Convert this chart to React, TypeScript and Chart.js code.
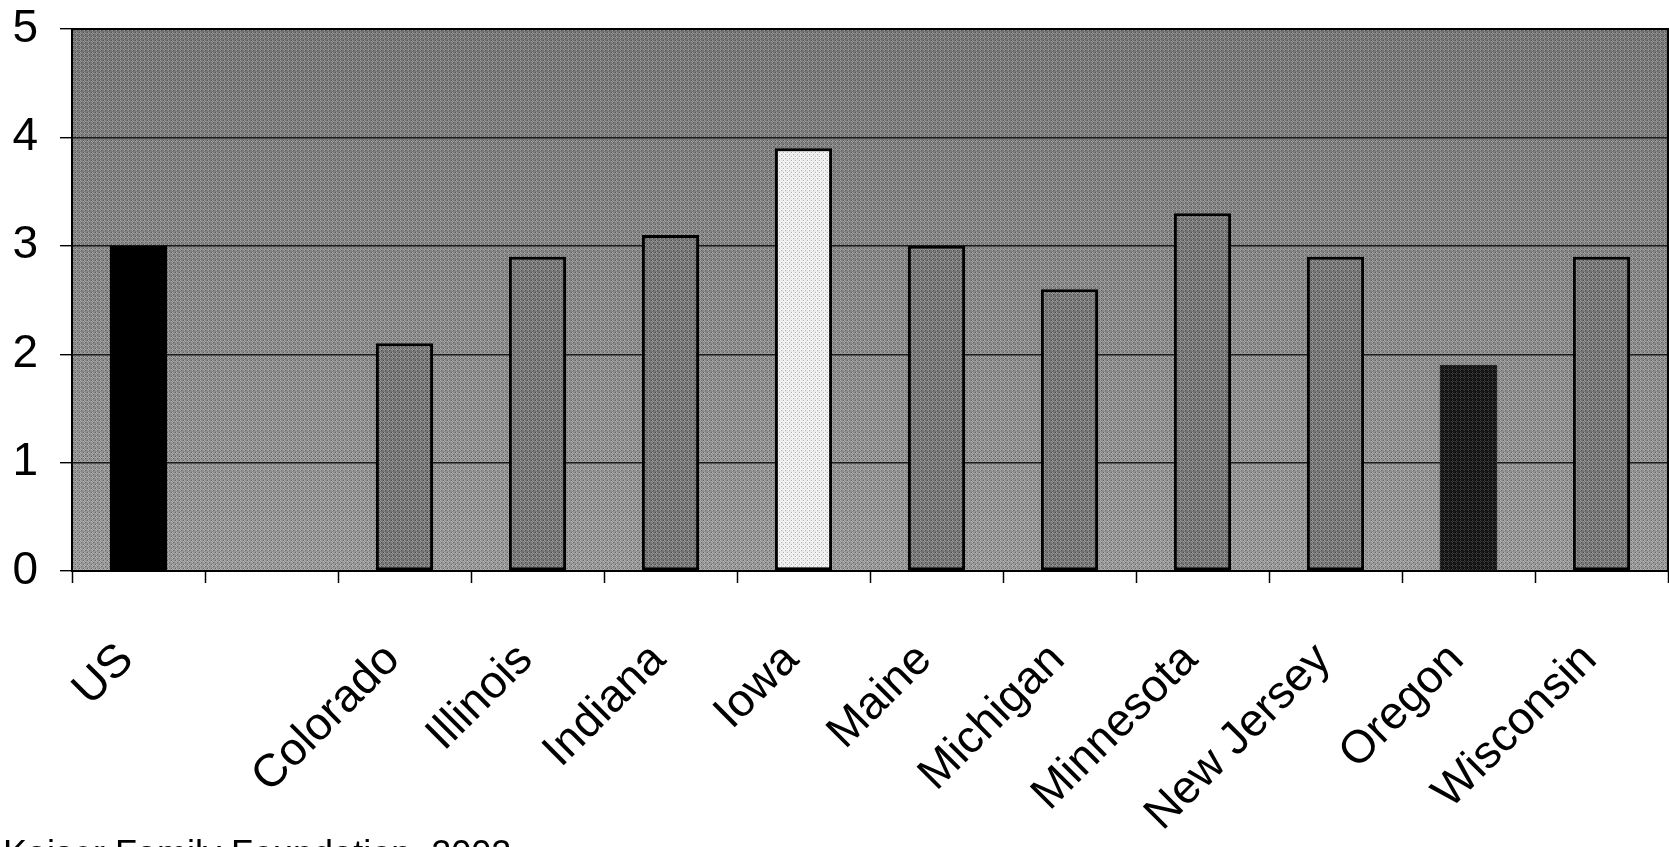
import React, { useEffect, useRef } from "react";
import { Chart, registerables } from "chart.js";

Chart.register(...registerables);

// Categories along the x axis (the second slot is an intentional gap after the national figure)
const categories: string[] = [
  "US",
  "",
  "Colorado",
  "Illinois",
  "Indiana",
  "Iowa",
  "Maine",
  "Michigan",
  "Minnesota",
  "New Jersey",
  "Oregon",
  "Wisconsin",
];

// Bar values, one per category
const values: (number | null)[] = [3.0, null, 2.1, 2.9, 3.1, 3.9, 3.0, 2.6, 3.3, 2.9, 1.9, 2.9];

// Y axis tick values
const yTicks: number[] = [0, 1, 2, 3, 4, 5];

const sourceNote = "Kaiser Family Foundation, 2002";

const WIDTH = 1669;
const HEIGHT = 847;
const FONT = "'Liberation Sans', Arial, Helvetica, sans-serif";

// Repeating grain tile for textured fills, built from a fixed bit pattern
function makeGrain(base: string, dark: string, light: string): CanvasPattern | string {
  const n = 16;
  const c = document.createElement("canvas");
  c.width = n;
  c.height = n;
  const g = c.getContext("2d");
  if (!g) return base;
  g.fillStyle = base;
  g.fillRect(0, 0, n, n);
  for (let y = 0; y < n; y++) {
    for (let x = 0; x < n; x++) {
      const k = ((x * 7 + y * 13) ^ (x * y + 5) ^ (y * 3)) & 3;
      if (k === 0) {
        g.fillStyle = dark;
        g.fillRect(x, y, 1, 1);
      } else if (k === 1) {
        g.fillStyle = light;
        g.fillRect(x, y, 1, 1);
      }
    }
  }
  const p = g.createPattern(c, "repeat");
  return p || base;
}

export default function App() {
  const canvasRef = useRef<HTMLCanvasElement | null>(null);

  useEffect(() => {
    const canvas = canvasRef.current;
    if (!canvas) return;

    const barGrain = makeGrain("#747474", "#4a4a4a", "#9a9a9a");
    const iowaGrain = makeGrain("#eaeaea", "#b4b4b4", "#fafafa");
    const oregonGrain = makeGrain("#181818", "#050505", "#3c3c3c");
    const plotGrain = makeGrain("rgba(0,0,0,0)", "rgba(0,0,0,0.3)", "rgba(255,255,255,0.26)");

    const fills = categories.map((c) => {
      if (c === "US") return "#000000";
      if (c === "Iowa") return iowaGrain;
      if (c === "Oregon") return oregonGrain;
      return barGrain;
    });
    const borders = categories.map((c) => (c === "US" || c === "Oregon" ? 0 : 3));

    const plotBackground = {
      id: "plotBackground",
      beforeDraw(chart: Chart) {
        const { ctx, chartArea: a } = chart;
        ctx.save();
        const grad = ctx.createLinearGradient(0, a.top, 0, a.bottom);
        grad.addColorStop(0, "#737373");
        grad.addColorStop(0.45, "#848484");
        grad.addColorStop(1, "#969696");
        ctx.fillStyle = grad;
        ctx.fillRect(a.left, a.top, a.right - a.left, a.bottom - a.top);
        ctx.fillStyle = plotGrain as any;
        ctx.fillRect(a.left, a.top, a.right - a.left, a.bottom - a.top);
        ctx.restore();
      },
      beforeDatasetsDraw(chart: Chart) {
        const { ctx, chartArea: a } = chart;
        ctx.save();
        ctx.strokeStyle = "#000";
        ctx.lineWidth = 2;
        ctx.strokeRect(a.left, a.top, a.right - a.left, a.bottom - a.top);
        ctx.restore();
      },
      afterDraw(chart: Chart) {
        const { ctx } = chart;
        ctx.save();
        ctx.fillStyle = "#000";
        ctx.font = `36px ${FONT}`;
        ctx.textAlign = "left";
        ctx.textBaseline = "alphabetic";
        ctx.fillText(sourceNote, 3, 866);
        ctx.restore();
      },
    };

    const chart = new Chart(canvas, {
      type: "bar",
      data: {
        labels: categories,
        datasets: [
          {
            data: values,
            backgroundColor: fills as any,
            borderColor: "#000000",
            borderWidth: borders,
            borderSkipped: false,
            barPercentage: 0.43,
            categoryPercentage: 1,
          },
        ],
      },
      options: {
        responsive: false,
        animation: false,
        devicePixelRatio: 1,
        layout: { autoPadding: false, padding: { top: 29, right: 1, left: 0, bottom: 0 } },
        plugins: {
          legend: { display: false },
          tooltip: { enabled: false },
        },
        scales: {
          x: {
            offset: true,
            grid: {
              offset: true,
              drawOnChartArea: false,
              drawTicks: true,
              tickLength: 12,
              tickColor: "#000",
              tickWidth: 1.5,
            },
            border: { display: true, color: "#000", width: 2 },
            ticks: {
              autoSkip: false,
              maxRotation: 45,
              minRotation: 45,
              padding: 50,
              labelOffset: -12,
              color: "#000",
              font: { family: FONT, size: 46 },
            },
            afterFit(scale: any) {
              scale.height = HEIGHT - 571;
              scale.paddingLeft = 0;
              scale.paddingRight = 0;
            },
          },
          y: {
            min: 0,
            max: 5,
            afterBuildTicks(scale: any) {
              scale.ticks = yTicks.map((v) => ({ value: v }));
            },
            grid: {
              color: "#1c1c1c",
              lineWidth: 1.4,
              drawTicks: true,
              tickLength: 12,
              tickColor: "#000",
              tickWidth: 1.4,
            },
            border: { display: true, color: "#000", width: 2 },
            ticks: {
              padding: 22,
              color: "#000",
              font: { family: FONT, size: 46 },
            },
            afterFit(scale: any) {
              scale.width = 72;
              scale.paddingTop = 0;
              scale.paddingBottom = 0;
            },
          },
        },
      },
      plugins: [plotBackground],
    });

    return () => chart.destroy();
  }, []);

  return (
    <div
      style={{
        position: "absolute",
        left: 0,
        top: 0,
        width: WIDTH,
        height: HEIGHT,
        overflow: "hidden",
        background: "#fff",
      }}
    >
      <canvas ref={canvasRef} width={WIDTH} height={HEIGHT} style={{ display: "block" }} />
    </div>
  );
}
